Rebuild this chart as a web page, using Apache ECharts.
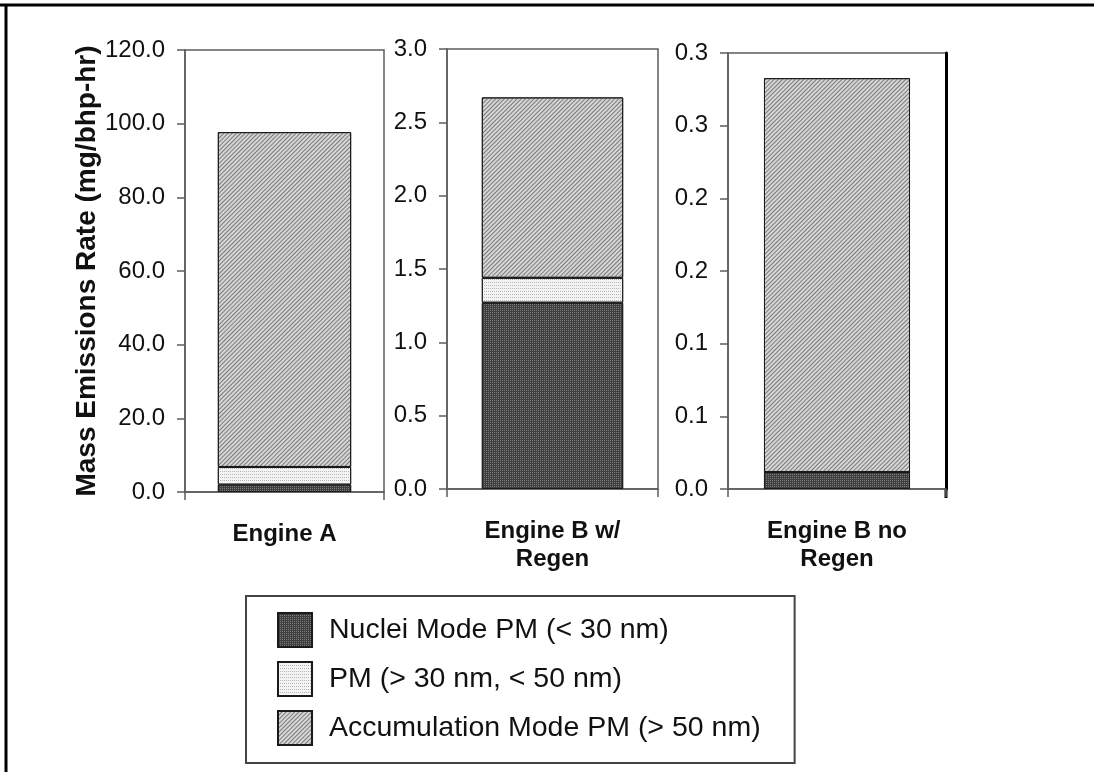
<!DOCTYPE html>
<html>
<head>
<meta charset="utf-8">
<title>Mass Emissions Rate by Particle Size Mode</title>
<script src="https://cdn.jsdelivr.net/npm/echarts@6/dist/echarts.min.js"></script>
<style>
  html, body { margin: 0; padding: 0; background: #ffffff; }
  #chart { width: 1094px; height: 772px; }
</style>
</head>
<body>
<div id="chart"></div>
<script>
// Engines, one per panel
const engines = ['Engine A', 'Engine B w/\nRegen', 'Engine B no\nRegen'];

// Particle size modes (stack order, bottom to top)
const modeNames = [
  'Nuclei Mode PM (< 30 nm)',
  'PM (> 30 nm, < 50 nm)',
  'Accumulation Mode PM (> 50 nm)'
];

// Mass emission rates, mg/bhp-hr, one value per engine
const nucleiPM = [2.0, 1.27, 0.0117];
const midPM = [4.8, 0.17, 0];
const accumulationPM = [90.9, 1.23, 0.271];

// Axis ranges and tick labels of each panel
const axisMax = [120, 3.0, 0.3];
const axisStep = [20, 0.5, 0.05];
const tickLabels = [
  ['0.0', '20.0', '40.0', '60.0', '80.0', '100.0', '120.0'],
  ['0.0', '0.5', '1.0', '1.5', '2.0', '2.5', '3.0'],
  ['0.0', '0.1', '0.1', '0.2', '0.2', '0.3', '0.3']
];

const FONT = '"Liberation Sans", Arial, sans-serif';
const AXIS_GREY = '#5c5c5c';

// Fill styles of the three modes
const modeStyles = [
  { color: '#3f3f3f', borderColor: '#1a1a1a', borderWidth: 1,
    decal: { symbol: 'rect', symbolSize: 1, dashArrayX: [1, 1], dashArrayY: [1, 1], color: '#7c7c7c' } },
  { color: '#f4f4f4', borderColor: '#1a1a1a', borderWidth: 1,
    decal: { symbol: 'rect', symbolSize: 1, dashArrayX: [1, 1], dashArrayY: [1, 2], color: '#b4b4b4' } },
  { color: '#d6d6d6', borderColor: '#1a1a1a', borderWidth: 1,
    decal: { symbol: 'rect', symbolSize: 1, dashArrayX: [1, 0], dashArrayY: [1, 2], rotation: -Math.PI / 4, color: '#7a7a7a' } }
];

const modeValues = [nucleiPM, midPM, accumulationPM];

const grids = [
  { left: 185, top: 50, width: 199, height: 442 },
  { left: 447, top: 49, width: 211, height: 440 },
  { left: 728, top: 53, width: 218, height: 436 }
].map(g => Object.assign(g, { show: true, borderColor: AXIS_GREY, borderWidth: 1.5, containLabel: false }));

const xAxes = engines.map((name, i) => ({
  type: 'category',
  gridIndex: i,
  data: [name],
  boundaryGap: true,
  axisLine: { show: true, lineStyle: { color: AXIS_GREY, width: 1.5 } },
  axisTick: { show: true, length: 8, lineStyle: { color: AXIS_GREY, width: 1.5 } },
  axisLabel: {
    margin: 28, color: '#111', fontFamily: FONT, fontWeight: 'bold',
    fontSize: 24, lineHeight: 28
  }
}));

const yAxes = axisMax.map((max, i) => ({
  type: 'value',
  gridIndex: i,
  min: 0,
  max: max,
  interval: axisStep[i],
  axisLine: { show: true, lineStyle: { color: AXIS_GREY, width: 1.5 } },
  axisTick: { show: true, length: 8, lineStyle: { color: AXIS_GREY, width: 1.5 } },
  splitLine: { show: false },
  axisLabel: {
    margin: 20, color: '#111', fontFamily: FONT, fontSize: 24,
    formatter: (v, idx) => tickLabels[i][idx]
  }
}));

// Axis title on the first panel
Object.assign(yAxes[0], {
  name: 'Mass Emissions Rate (mg/bhp-hr)',
  nameLocation: 'middle',
  nameGap: 84,
  nameTextStyle: { fontFamily: FONT, fontWeight: 'bold', fontSize: 28, color: '#111' }
});

// Heavy right edge of the last panel
yAxes.push({
  type: 'value', gridIndex: 2, position: 'right', min: 0, max: 1,
  axisLine: { show: true, lineStyle: { color: '#000', width: 3 } },
  axisTick: { show: false }, axisLabel: { show: false }, splitLine: { show: false }
});

const series = [];
engines.forEach((eng, i) => {
  modeNames.forEach((mode, m) => {
    series.push({
      type: 'bar',
      name: mode,
      xAxisIndex: i,
      yAxisIndex: i,
      stack: 'engine' + i,
      barWidth: '67%',
      itemStyle: modeStyles[m],
      emphasis: { disabled: true },
      data: [modeValues[m][i]]
    });
  });
});

const chart = echarts.init(document.getElementById('chart'), null, { renderer: 'canvas' });
chart.setOption({
  backgroundColor: '#ffffff',
  animation: false,
  grid: grids,
  xAxis: xAxes,
  yAxis: yAxes,
  legend: {
    data: modeNames,
    orient: 'vertical',
    left: 246,
    top: 596,
    icon: 'rect',
    itemWidth: 34,
    itemHeight: 34,
    itemGap: 13,
    padding: [16, 34, 17, 31],
    borderColor: '#444',
    borderWidth: 2,
    selectedMode: false,
    textStyle: { fontFamily: FONT, fontSize: 28.5, color: '#111', padding: [0, 0, 0, 12] }
  },
  graphic: [
    { type: 'line', shape: { x1: 0, y1: 5, x2: 1094, y2: 5 }, style: { stroke: '#000', lineWidth: 3 } },
    { type: 'line', shape: { x1: 6, y1: 4, x2: 6, y2: 772 }, style: { stroke: '#000', lineWidth: 3 } },
    { type: 'line', shape: { x1: 946, y1: 488, x2: 946, y2: 498 }, style: { stroke: '#000', lineWidth: 3 } }
  ],
  series: series
});
</script>
</body>
</html>
